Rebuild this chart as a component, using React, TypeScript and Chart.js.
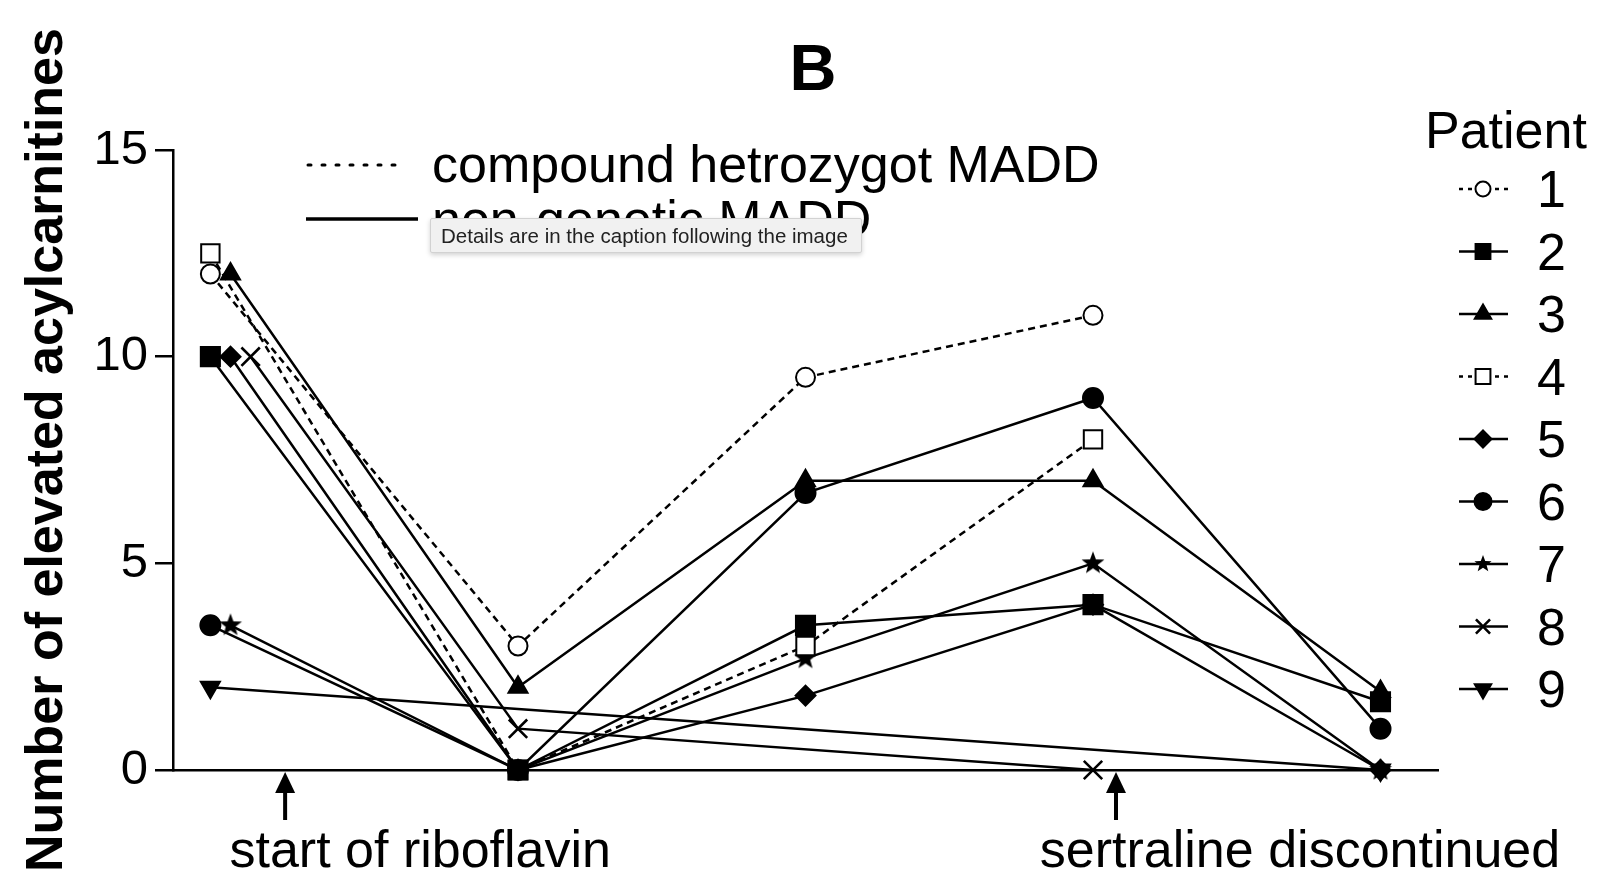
import React, { useEffect, useRef } from 'react';
import { Chart, registerables } from 'chart.js';
import { drawPoint } from 'chart.js/helpers';

Chart.register(...registerables);

// ---------- data ----------
const patientLabels = ['1', '2', '3', '4', '5', '6', '7', '8', '9'];

const p1X = [1.3, 12, 22, 32];
const p1Y = [12, 3, 9.5, 11];
const p2X = [1.3, 12, 22, 32, 42];
const p2Y = [10, 0, 3.5, 4, 1.65];
const p3X = [2, 12, 22, 32, 42];
const p3Y = [12, 2, 7, 7, 1.9];
const p4X = [1.3, 12, 22, 32];
const p4Y = [12.5, 0, 3, 8];
const p5X = [2, 12, 22, 32, 42];
const p5Y = [10, 0, 1.8, 4, 0];
const p6X = [1.3, 12, 22, 32, 42];
const p6Y = [3.5, 0, 6.7, 9, 1];
const p7X = [2, 12, 22, 32, 42];
const p7Y = [3.5, 0, 2.7, 5, 0];
const p8X = [2.7, 12, 32];
const p8Y = [10, 1, 0];
const p9X = [1.3, 42];
const p9Y = [2, 0];

const yTickStep = 5;
const yMin = 0;
const yMax = 15;
const xMin = 0;
const xMax = 44;

const arrowX = [3.9, 32.8];
const eventLabels = ['start of riboflavin', 'sertraline discontinued'];
const eventLabelX = [8.6, 39.2];

const groupLegendLabels = ['compound hetrozygot MADD', 'non-genetic MADD'];
const titleText = 'B';
const yAxisLabel = 'Number of elevated acylcarnitines';
const legendTitle = 'Patient';
const captionNote = 'Details are in the caption following the image';

const FONT = '"Liberation Sans", Arial, Helvetica, sans-serif';

function makeStar(size: number, outer: number, inner: number) {
  const c = document.createElement('canvas');
  c.width = size;
  c.height = size;
  const g = c.getContext('2d')!;
  g.fillStyle = '#000';
  g.beginPath();
  for (let i = 0; i < 10; i++) {
    const r = i % 2 === 0 ? outer : inner;
    const a = -Math.PI / 2 + (i * Math.PI) / 5;
    const px = size / 2 + r * Math.cos(a);
    const py = size / 2 + r * Math.sin(a);
    if (i === 0) g.moveTo(px, py);
    else g.lineTo(px, py);
  }
  g.closePath();
  g.fill();
  return c;
}

function toPts(xs: number[], ys: number[]) {
  return xs.map((x, i) => ({ x, y: ys[i] }));
}

export default function App() {
  const ref = useRef<HTMLCanvasElement | null>(null);

  useEffect(() => {
    if (!ref.current) return;
    const star = makeStar(26, 12, 5);
    const starSmall = makeStar(20, 9, 3.8);

    // style per patient (index aligned with patientLabels)
    const styles: any[] = [
      { pointStyle: 'circle', radius: 9.5, fill: '#fff', dash: [7, 5], rotation: 0, lr: 7.5 },
      { pointStyle: 'rect', radius: 13.5, fill: '#000', dash: [], rotation: 0, lr: 10.5 },
      { pointStyle: 'triangle', radius: 11, fill: '#000', dash: [], rotation: 0, lr: 9.5 },
      { pointStyle: 'rect', radius: 13, fill: '#fff', dash: [7, 5], rotation: 0, lr: 10.5 },
      { pointStyle: 'rectRot', radius: 10, fill: '#000', dash: [], rotation: 0, lr: 8.5 },
      { pointStyle: 'circle', radius: 10, fill: '#000', dash: [], rotation: 0, lr: 8.5 },
      { pointStyle: star, radius: 10, fill: '#000', dash: [], rotation: 0, lr: 8, legendStyle: starSmall },
      { pointStyle: 'crossRot', radius: 13, fill: '#000', dash: [], rotation: 0, lr: 10 },
      { pointStyle: 'triangle', radius: 11, fill: '#000', dash: [], rotation: 180, lr: 9.5 },
    ];
    const series = [
      toPts(p1X, p1Y), toPts(p2X, p2Y), toPts(p3X, p3Y), toPts(p4X, p4Y), toPts(p5X, p5Y),
      toPts(p6X, p6Y), toPts(p7X, p7Y), toPts(p8X, p8Y), toPts(p9X, p9Y),
    ];

    const datasets = series.map((d, i) => ({
      label: patientLabels[i],
      data: d,
      borderColor: '#000',
      backgroundColor: styles[i].fill,
      borderWidth: 2.5,
      borderDash: styles[i].dash,
      tension: 0,
      fill: false,
      pointStyle: styles[i].pointStyle,
      pointRadius: styles[i].radius,
      pointRotation: styles[i].rotation,
      pointBackgroundColor: styles[i].fill,
      pointBorderColor: '#000',
      pointBorderWidth: styles[i].pointStyle === 'crossRot' ? 2.6 : 2,
      clip: false as any,
    }));

    const overlay = {
      id: 'overlay',
      afterDraw(chart: any) {
        const ctx: CanvasRenderingContext2D = chart.ctx;
        const xs = chart.scales.x;
        ctx.save();
        ctx.fillStyle = '#000';
        ctx.strokeStyle = '#000';

        // Title
        ctx.font = `bold 65px ${FONT}`;
        ctx.textAlign = 'center';
        ctx.textBaseline = 'alphabetic';
        ctx.fillText(titleText, 813, 90);

        // Y axis label
        ctx.save();
        ctx.translate(62, 450);
        ctx.rotate(-Math.PI / 2);
        ctx.font = `bold 52px ${FONT}`;
        ctx.textAlign = 'center';
        ctx.fillText(yAxisLabel, 0, 0);
        ctx.restore();

        // Group legend (dotted / solid)
        ctx.lineWidth = 3;
        ctx.setLineDash([3, 11]);
        ctx.lineCap = 'round';
        ctx.beginPath();
        ctx.moveTo(308, 165);
        ctx.lineTo(406, 165);
        ctx.stroke();
        ctx.setLineDash([]);
        ctx.lineCap = 'butt';
        ctx.lineWidth = 3.5;
        ctx.beginPath();
        ctx.moveTo(306, 219);
        ctx.lineTo(418, 219);
        ctx.stroke();
        ctx.font = `52px ${FONT}`;
        ctx.textAlign = 'left';
        ctx.fillText(groupLegendLabels[0], 432, 182);
        ctx.fillText(groupLegendLabels[1], 432, 237);

        // Patient legend
        ctx.font = `52px ${FONT}`;
        ctx.textAlign = 'left';
        ctx.fillText(legendTitle, 1425, 148);
        for (let i = 0; i < patientLabels.length; i++) {
          const cy = 189 + i * 62.5;
          const st = styles[i];
          ctx.lineWidth = 2.4;
          ctx.strokeStyle = '#000';
          ctx.setLineDash(st.dash.length ? [4, 5] : []);
          ctx.beginPath();
          ctx.moveTo(1459, cy);
          ctx.lineTo(1508, cy);
          ctx.stroke();
          ctx.setLineDash([]);
          ctx.fillStyle = st.fill;
          ctx.lineWidth = st.pointStyle === 'crossRot' ? 2.6 : 2;
          drawPoint(ctx, {
            pointStyle: st.legendStyle || st.pointStyle,
            rotation: st.rotation,
            radius: st.lr,
            borderWidth: ctx.lineWidth,
          } as any, 1483, cy);
          ctx.fillStyle = '#000';
          ctx.fillText(patientLabels[i], 1537, cy + 18);
        }

        // Event arrows and labels
        const axisY = chart.chartArea.bottom;
        ctx.font = `52px ${FONT}`;
        ctx.textAlign = 'center';
        for (let i = 0; i < arrowX.length; i++) {
          const ax = xs.getPixelForValue(arrowX[i]);
          ctx.lineWidth = 4;
          ctx.beginPath();
          ctx.moveTo(ax, axisY + 50);
          ctx.lineTo(ax, axisY + 18);
          ctx.stroke();
          ctx.beginPath();
          ctx.moveTo(ax, axisY + 2);
          ctx.lineTo(ax - 10, axisY + 23);
          ctx.lineTo(ax + 10, axisY + 23);
          ctx.closePath();
          ctx.fill();
          ctx.fillText(eventLabels[i], xs.getPixelForValue(eventLabelX[i]), 867);
        }
        ctx.restore();
      },
    };

    const chart = new Chart(ref.current, {
      type: 'line',
      data: { datasets: datasets as any },
      options: {
        animation: false,
        responsive: false,
        events: [],
        layout: { padding: { left: 0, right: 162, top: 150, bottom: 0 } },
        plugins: {
          legend: { display: false },
          tooltip: { enabled: false },
          title: { display: false },
        },
        scales: {
          x: {
            type: 'linear',
            min: xMin,
            max: xMax,
            ticks: { display: false },
            grid: { display: false },
            border: { display: true, color: '#000', width: 2.5 },
            afterFit: (s: any) => { s.height = 124; },
          },
          y: {
            type: 'linear',
            min: yMin,
            max: yMax,
            ticks: {
              stepSize: yTickStep,
              color: '#000',
              padding: 7,
              font: { size: 49, family: FONT },
            },
            grid: {
              drawOnChartArea: false,
              drawTicks: true,
              tickLength: 18,
              color: '#000',
              lineWidth: 2.5,
            },
            border: { display: true, color: '#000', width: 2.5 },
            afterFit: (s: any) => { s.width = 173; },
          },
        },
      },
      plugins: [overlay],
    });
    return () => chart.destroy();
  }, []);

  return (
    <div style={{ position: 'absolute', left: 0, top: 0, width: 1600, height: 894, background: '#fff' }}>
      <canvas ref={ref} width={1600} height={894} style={{ width: 1600, height: 894, display: 'block' }} />
      <div
        style={{
          position: 'absolute',
          left: 430,
          top: 218,
          width: 432,
          height: 35,
          boxSizing: 'border-box',
          background: '#f1f1f1',
          border: '1px solid #d2d2d2',
          borderRadius: 2,
          boxShadow: '0 2px 5px rgba(0,0,0,0.18)',
          fontFamily: FONT,
          fontSize: 20.5,
          color: '#222',
          lineHeight: '33px',
          paddingLeft: 10,
          whiteSpace: 'nowrap',
        }}
      >
        {captionNote}
      </div>
    </div>
  );
}
